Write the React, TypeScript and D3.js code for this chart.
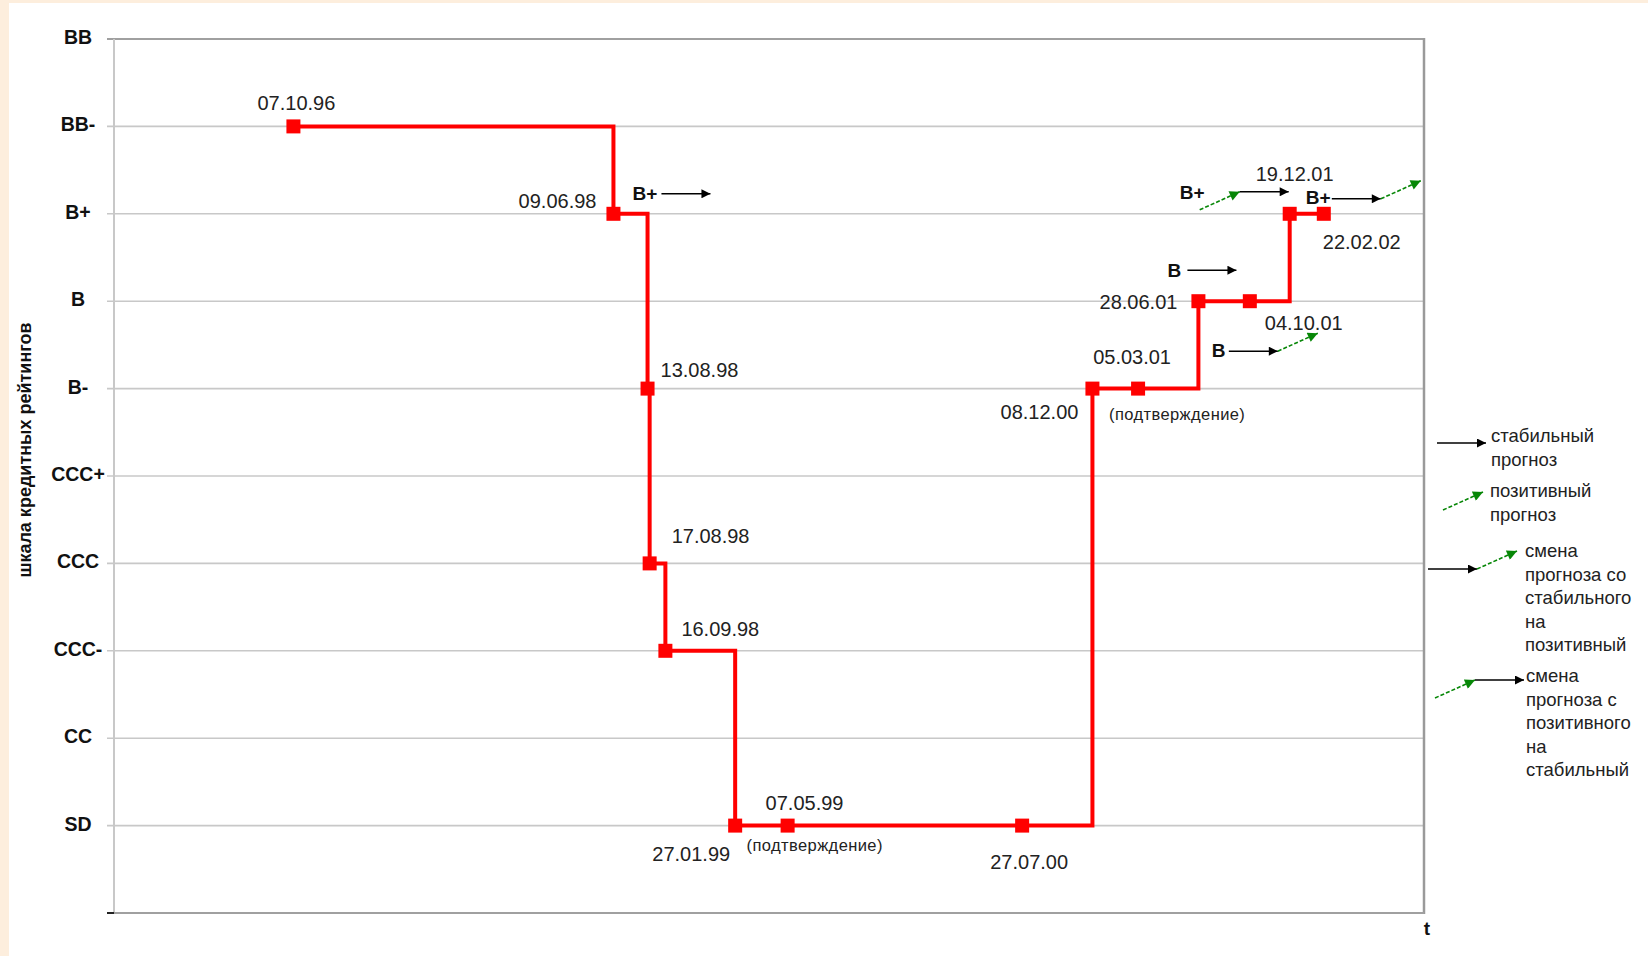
import React, { useRef, useEffect } from 'react';
import * as d3 from 'd3';

// rating scale, top to bottom (last empty slot is the bottom axis line)
const RATINGS = ['BB', 'BB-', 'B+', 'B', 'B-', 'CCC+', 'CCC', 'CCC-', 'CC', 'SD', ''];

// rating actions
const EVENT_DATES = [
    '1996-10-07', '1998-06-09', '1998-08-13', '1998-08-17', '1998-09-16', '1999-01-27', '1999-05-07',
    '2000-07-27', '2000-12-08', '2001-03-05', '2001-06-28', '2001-10-04', '2001-12-19', '2002-02-22',
];
const EVENT_RATINGS = ['BB-', 'B+', 'B-', 'CCC', 'CCC-', 'SD', 'SD', 'SD', 'B-', 'B-', 'B', 'B', 'B+', 'B+'];
const EVENT_LABELS = [
    '07.10.96', '09.06.98', '13.08.98', '17.08.98', '16.09.98', '27.01.99', '07.05.99',
    '27.07.00', '08.12.00', '05.03.01', '28.06.01', '04.10.01', '19.12.01', '22.02.02',
];
const CONFIRMED = [6, 9];
const CONFIRM_TEXT = '(подтверждение)';

// outlook annotations: event index, rating, chain of outlook arrows
const OUTLOOK_EVENTS = [1, 12, 13, 10, 11];
const OUTLOOK_RATINGS = ['B+', 'B+', 'B+', 'B', 'B'];
const OUTLOOK_CHAINS = [['stable'], ['positive', 'stable'], ['stable', 'positive'], ['stable'], ['stable', 'positive']];

const LEGEND_CHAINS = [['stable'], ['positive'], ['stable', 'positive'], ['positive', 'stable']];
const LEGEND_TEXT = [
    ['стабильный', 'прогноз'],
    ['позитивный', 'прогноз'],
    ['смена', 'прогноза со', 'стабильного', 'на', 'позитивный'],
    ['смена', 'прогноза с', 'позитивного', 'на', 'стабильный'],
];

const Y_TITLE = 'шкала кредитных рейтингов';
const X_TITLE = 't';

// layout (pixel offsets relative to the event markers)
const LABEL_POS: [number, number, string][] = [
    [3, -16, 'middle'], [-17, -6, 'end'], [13, -12, 'start'], [22, -20, 'start'], [16, -15, 'start'],
    [-5, 35, 'end'], [-22, -16, 'start'], [7, 43, 'middle'], [-14, 30, 'end'], [-6, -25, 'middle'],
    [-21, 8, 'end'], [15, 29, 'start'], [5, -33, 'middle'], [-1, 35, 'start'],
];
const CONFIRM_POS: [number, number][] = [[-41, 25], [-29, 31]];
const OUTLOOK_TEXT_POS: [number, number][] = [[19, -14], [-110, -15], [-18, -10], [-31, -24], [-38, 56]];
const OUTLOOK_ARROW_POS: [number, number][] = [[48, -20], [-90, -4], [8, -15], [-11, -31], [-21, 50]];
const LEGEND_ARROW_POS: [number, number][] = [[1437, 443], [1443, 510], [1428, 569], [1435, 698]];
const LEGEND_TEXT_POS: [number, number][] = [[1491, 442], [1490, 497], [1525, 557], [1526, 682]];

const SEG = { stable: [49, 0], positive: [40, -18] } as Record<string, number[]>;

const FONT = '"Liberation Sans", Arial, sans-serif';
const GREEN = '#078707';

const App: React.FC = () => {
    const svgRef = useRef<SVGSVGElement | null>(null);

    useEffect(() => {
        if (!svgRef.current) return;
        const width = 1648, height = 956;
        const svg = d3.select(svgRef.current);
        svg.selectAll('*').remove();
        svg.attr('width', width).attr('height', height);

        const left = 114, right = 1424, top = 39, bottom = 913;
        const parse = d3.timeParse('%Y-%m-%d');
        const x = d3.scaleTime()
            .domain([parse('1995-10-31')!, parse('2002-09-01')!])
            .range([left, right]);
        const y = d3.scalePoint<string>().domain(RATINGS).range([top, bottom]);

        // background
        svg.append('rect').attr('width', width).attr('height', height).attr('fill', '#fdeedd');
        svg.append('rect').attr('x', 9).attr('y', 3).attr('width', width - 9).attr('height', height - 3).attr('fill', '#ffffff');

        const defs = svg.append('defs');
        [['ah-black', '#000', 13, 9], ['ah-green', GREEN, 14, 10]].forEach(([id, c, w, h]) => {
            defs.append('marker')
                .attr('id', id).attr('viewBox', '0 0 10 10').attr('refX', 10).attr('refY', 5)
                .attr('markerWidth', w).attr('markerHeight', h).attr('markerUnits', 'userSpaceOnUse')
                .attr('orient', 'auto')
                .append('path').attr('d', 'M0,0L10,5L0,10z').attr('fill', c as string);
        });

        // gridlines + y labels
        RATINGS.slice(0, -1).forEach(r => {
            svg.append('line')
                .attr('x1', 107).attr('x2', right).attr('y1', y(r)!).attr('y2', y(r)!)
                .attr('stroke', r === 'BB' ? '#a0a0a0' : '#c8c8c8').attr('stroke-width', r === 'BB' ? 2 : 1.6);
            svg.append('text')
                .attr('x', 78).attr('y', y(r)! - 2)
                .attr('text-anchor', 'middle').attr('dominant-baseline', 'central')
                .attr('font-family', FONT).attr('font-weight', 'bold').attr('font-size', 19.5)
                .attr('fill', '#111').text(r);
        });
        // frame
        svg.append('line').attr('x1', left).attr('x2', left).attr('y1', top).attr('y2', bottom).attr('stroke', '#c8c8c8').attr('stroke-width', 2);
        svg.append('line').attr('x1', right).attr('x2', right).attr('y1', top - 1).attr('y2', bottom + 1).attr('stroke', '#9a9a9a').attr('stroke-width', 2.5);
        svg.append('line').attr('x1', 107).attr('x2', right).attr('y1', bottom).attr('y2', bottom).attr('stroke', '#a0a0a0').attr('stroke-width', 2);
        svg.append('line').attr('x1', 107).attr('x2', left).attr('y1', bottom).attr('y2', bottom).attr('stroke', '#222').attr('stroke-width', 2);

        // axis titles
        svg.append('text')
            .attr('transform', 'translate(31,450) rotate(-90)')
            .attr('text-anchor', 'middle')
            .attr('font-family', FONT).attr('font-weight', 'bold').attr('font-size', 18)
            .attr('fill', '#111').text(Y_TITLE);
        svg.append('text')
            .attr('x', 1427).attr('y', 935).attr('text-anchor', 'middle')
            .attr('font-family', FONT).attr('font-weight', 'bold').attr('font-size', 19)
            .attr('fill', '#111').text(X_TITLE);

        const pts = EVENT_DATES.map((d, i) => ({ x: x(parse(d)!), y: y(EVENT_RATINGS[i])!, i }));

        // rating path
        const line = d3.line<{ x: number; y: number }>().x(d => d.x).y(d => d.y).curve(d3.curveStepAfter);
        svg.append('path').attr('d', line(pts)!)
            .attr('fill', 'none').attr('stroke', '#ff0000').attr('stroke-width', 4);
        svg.selectAll('rect.pt').data(pts).join('rect')
            .attr('class', 'pt')
            .attr('x', d => d.x - 7).attr('y', d => d.y - 7)
            .attr('width', 14).attr('height', 14).attr('fill', '#ff0000');

        // date labels
        pts.forEach(p => {
            const [dx, dy, anchor] = LABEL_POS[p.i];
            svg.append('text')
                .attr('x', p.x + dx).attr('y', p.y + dy).attr('text-anchor', anchor)
                .attr('font-family', FONT).attr('font-size', 20).attr('fill', '#222')
                .text(EVENT_LABELS[p.i]);
        });
        CONFIRMED.forEach((idx, k) => {
            const p = pts[idx];
            svg.append('text')
                .attr('x', p.x + CONFIRM_POS[k][0]).attr('y', p.y + CONFIRM_POS[k][1])
                .attr('font-family', FONT).attr('font-size', 16.5).attr('letter-spacing', 0.4).attr('fill', '#222')
                .text(CONFIRM_TEXT);
        });

        const drawChain = (x0: number, y0: number, chain: string[]) => {
            let cx = x0, cy = y0;
            chain.forEach(kind => {
                const [sx, sy] = SEG[kind];
                const pos = kind === 'positive';
                svg.append('line')
                    .attr('x1', cx).attr('y1', cy).attr('x2', cx + sx).attr('y2', cy + sy)
                    .attr('stroke', pos ? GREEN : '#000')
                    .attr('stroke-width', pos ? 1.6 : 1.6)
                    .attr('stroke-dasharray', pos ? '4,2' : null)
                    .attr('marker-end', `url(#${pos ? 'ah-green' : 'ah-black'})`);
                cx += sx; cy += sy;
            });
        };

        // outlook annotations
        OUTLOOK_EVENTS.forEach((ev, k) => {
            const p = pts[ev];
            svg.append('text')
                .attr('x', p.x + OUTLOOK_TEXT_POS[k][0]).attr('y', p.y + OUTLOOK_TEXT_POS[k][1])
                .attr('font-family', FONT).attr('font-weight', 'bold').attr('font-size', 19).attr('fill', '#111')
                .text(OUTLOOK_RATINGS[k]);
            drawChain(p.x + OUTLOOK_ARROW_POS[k][0], p.y + OUTLOOK_ARROW_POS[k][1], OUTLOOK_CHAINS[k]);
        });

        // legend
        LEGEND_CHAINS.forEach((chain, k) => {
            drawChain(LEGEND_ARROW_POS[k][0], LEGEND_ARROW_POS[k][1], chain);
            const t = svg.append('text')
                .attr('font-family', FONT).attr('font-size', 18.5).attr('fill', '#222');
            LEGEND_TEXT[k].forEach((s, j) => {
                t.append('tspan').attr('x', LEGEND_TEXT_POS[k][0]).attr('y', LEGEND_TEXT_POS[k][1] + j * 23.5).text(s);
            });
        });
    }, []);

    return <svg ref={svgRef} style={{ position: 'absolute', left: 0, top: 0, display: 'block' }}></svg>;
};

export default App;
